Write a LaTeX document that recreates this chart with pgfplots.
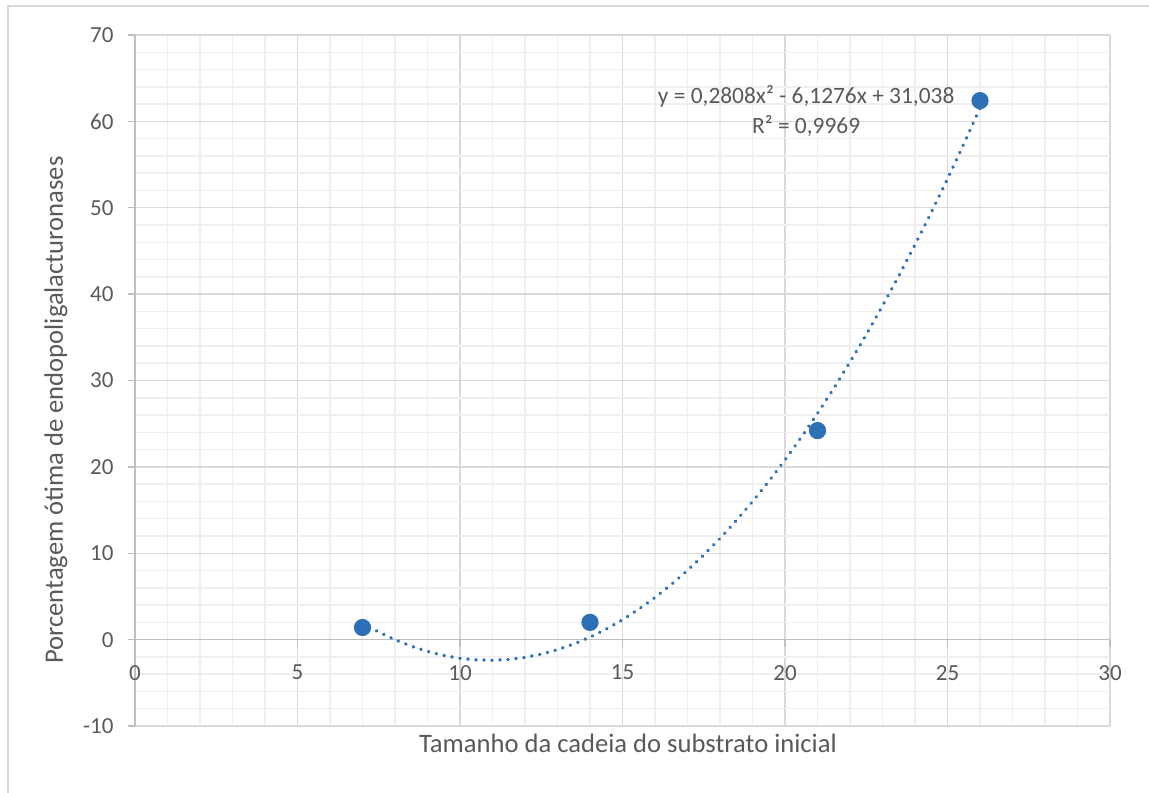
\documentclass[border=0pt]{standalone}
\usepackage{pgfplots}
\pgfplotsset{compat=1.18}
\usepackage{fontspec}
\setmainfont{Carlito}
\definecolor{txt}{HTML}{595959}
\definecolor{majgrid}{HTML}{D9D9D9}
\definecolor{mingrid}{HTML}{EFEFEF}
\definecolor{axgray}{HTML}{BFBFBF}
\definecolor{ptblue}{HTML}{2E70B6}
\pgfplotstableread{
x y
7 1.904
7.5 0.876
8 -0.012
8.5 -0.759
9 -1.366
9.5 -1.832
10 -2.158
10.5 -2.344
11 -2.389
11.5 -2.294
12 -2.058
12.5 -1.682
13 -1.166
13.5 -0.509
14 0.288
14.5 1.226
15 2.304
15.5 3.522
16 4.881
16.5 6.380
17 8.020
17.5 9.800
18 11.720
18.5 13.781
19 15.982
19.5 18.324
20 20.806
20.5 23.428
21 26.191
21.5 29.094
22 32.138
22.5 35.322
23 38.646
23.5 42.111
24 45.716
24.5 49.462
25 53.348
25.5 57.374
26 61.541
}\trendtable
\begin{document}
\begin{tikzpicture}
\useasboundingbox (-67.5pt,-33pt) rectangle (507pt,363pt);
\draw[majgrid, line width=0.75pt] (-63.5pt,-40pt) -- (-63.5pt,360pt) -- (520pt,360pt);
\begin{axis}[
  at={(0,0)}, anchor=south west,
  scale only axis, width=487.5pt, height=345.5pt,
  xmin=0, xmax=30, ymin=-10, ymax=70,
  xtick={0,5,10,15,20,25,30},
  xticklabels={0,5,10,15,20,25,30},
  ytick={-10,0,10,20,30,40,50,60,70},
  yticklabels={-10,0,10,20,30,40,50,60,70},
  minor x tick num=4, minor y tick num=4,
  grid=both,
  major grid style={majgrid, line width=0.75pt},
  minor grid style={mingrid, line width=0.75pt},
  axis x line=middle, axis y line=left,
  axis line style={axgray, line width=0.75pt, -},
  hide obscured x ticks=false, hide obscured y ticks=false,
  tick align=outside, major tick length=3.5pt, minor tick length=0pt,
  major tick style={axgray, line width=0.75pt},
  ticklabel style={font=\fontsize{11.5}{13}\selectfont, text=txt},
  xticklabel style={anchor=center, yshift=-13pt},
  yticklabel style={anchor=east, xshift=-3.7pt},
  xlabel={Tamanho da cadeia do substrato inicial},
  xlabel style={at={(axis description cs:0.5056,-0.0246)}, anchor=center, font=\fontsize{13.3}{15}\selectfont, text=txt},
  ylabel={Porcentagem ótima de endopoligalacturonases},
  ylabel style={at={(axis description cs:-0.081,0.457)}, anchor=center, rotate=0, font=\fontsize{13.3}{15}\selectfont, text=txt},
  clip=false,
]
\addplot[ptblue, line width=1.9pt, line cap=round, dash pattern=on 0.01pt off 4pt] table[x=x,y=y] {\trendtable};
\addplot[only marks, mark=*, mark size=4.1pt, ptblue, mark options={draw=ptblue, fill=ptblue}] coordinates {(7,1.4) (14,2.0) (21,24.2) (26,62.4)};
\node[align=center, text=txt, font=\fontsize{11.7}{15}\selectfont] at (axis cs:20.65,61.2) {y = 0,2808x² - 6,1276x + 31,038\\R² = 0,9969};
\end{axis}
\end{tikzpicture}
\end{document}
